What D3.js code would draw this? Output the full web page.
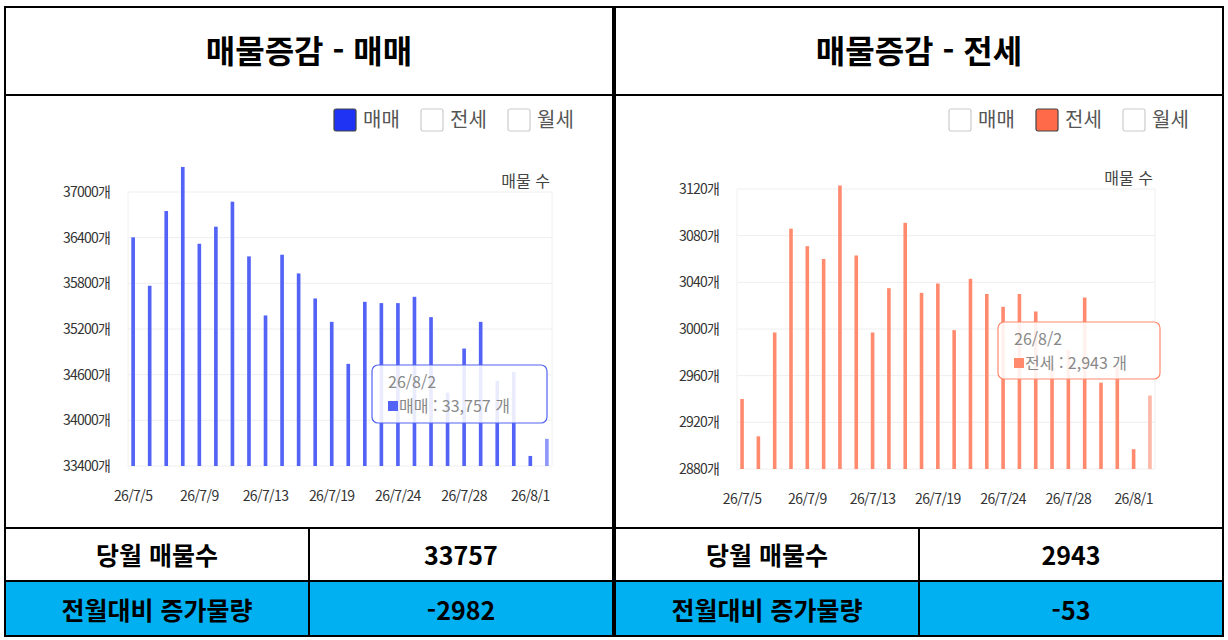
<!DOCTYPE html>
<html lang="ko">
<head>
<meta charset="UTF-8">
<script src="https://d3js.org/d3.v7.min.js"></script>
<style>
  body { margin: 0; background: #fff; font-family: "Noto Sans CJK KR", "Noto Sans", sans-serif; }
</style>
</head>
<body>
<svg id="chart" width="1228" height="640"></svg>
<script>
const dates = ["26/7/5","26/7/6","26/7/7","26/7/8","26/7/9","26/7/10","26/7/11","26/7/12","26/7/13","26/7/14",
  "26/7/15","26/7/16","26/7/19","26/7/20","26/7/21","26/7/22","26/7/24","26/7/25","26/7/26","26/7/27",
  "26/7/28","26/7/29","26/7/30","26/7/31","26/8/1","26/8/2"];
const saleValues = [36404,35768,36750,37329,36320,36544,36873,36154,35378,36176,35930,35601,35294,34742,
  35557,35540,35540,35623,35356,34365,34943,35294,34518,34637,33532,33757];
const jeonseValues = [2940,2908,2997,3086,3071,3060,3123,3063,2997,3035,3091,3031,3039,2999,3043,3030,
  3019,3030,3015,2970,2982,3027,2954,2968,2897,2943];
const saleTicks = [33400,34000,34600,35200,35800,36400,37000];
const jeonseTicks = [2880,2920,2960,3000,3040,3080,3120];
const legendNames = ["매매","전세","월세"];

const svg = d3.select("#chart");
const font = '"Noto Sans CJK KR", sans-serif';

const panels = [
  { x0: 5, title: "매물증감 - 매매", values: saleValues, ticks: saleTicks, domain: [33400, 37000],
    color: "#5263f5", light: "#8d98f8", legendColor: "#1f33f5", sel: 0,
    plot: { l: 128, r: 552, t: 192, b: 466 }, legendX: 333,
    tip: { x: 372, y: 365, w: 175, h: 58 }, tipText: "매매 : 33,757 개",
    current: "33757", diff: "-2982" },
  { x0: 615, title: "매물증감 - 전세", values: jeonseValues, ticks: jeonseTicks, domain: [2880, 3120],
    color: "#ff8a6e", light: "#ffb7a6", legendColor: "#ff6a48", sel: 1,
    plot: { l: 737, r: 1155, t: 189, b: 469 }, legendX: 948,
    tip: { x: 998, y: 322, w: 162, h: 57 }, tipText: "전세 : 2,943 개",
    current: "2943", diff: "-53" }
];

panels.forEach(p => {
  const W = 608;
  // frame
  svg.append("rect").attr("x", p.x0).attr("y", 7).attr("width", W).attr("height", 629)
    .attr("fill", "none").attr("stroke", "#000").attr("stroke-width", 2);
  svg.append("line").attr("x1", p.x0).attr("x2", p.x0 + W).attr("y1", 95).attr("y2", 95)
    .attr("stroke", "#000").attr("stroke-width", 2);
  svg.append("text").attr("x", p.x0 + W / 2).attr("y", 63).attr("text-anchor", "middle")
    .attr("font-family", font).attr("font-size", 32).attr("font-weight", "bold").text(p.title);

  // table rows
  svg.append("rect").attr("x", p.x0).attr("y", 581).attr("width", W).attr("height", 55).attr("fill", "#00b0f0");
  [528, 581].forEach(y => svg.append("line").attr("x1", p.x0).attr("x2", p.x0 + W).attr("y1", y).attr("y2", y)
    .attr("stroke", "#000").attr("stroke-width", 2));
  svg.append("rect").attr("x", p.x0).attr("y", 528).attr("width", W).attr("height", 108)
    .attr("fill", "none").attr("stroke", "#000").attr("stroke-width", 2);
  svg.append("line").attr("x1", p.x0 + 304).attr("x2", p.x0 + 304).attr("y1", 528).attr("y2", 636)
    .attr("stroke", "#000").attr("stroke-width", 2);
  const rows = [["당월 매물수", p.current, 565], ["전월대비 증가물량", p.diff, 620]];
  rows.forEach(r => {
    svg.append("text").attr("x", p.x0 + 152).attr("y", r[2]).attr("text-anchor", "middle")
      .attr("font-family", font).attr("font-size", 25).attr("font-weight", "bold").text(r[0]);
    svg.append("text").attr("x", p.x0 + 456).attr("y", r[2]).attr("text-anchor", "middle")
      .attr("font-family", font).attr("font-size", 25).attr("font-weight", "bold").text(r[1]);
  });

  // legend
  const lg = svg.append("g").attr("transform", `translate(${p.legendX},108)`);
  legendNames.forEach((n, i) => {
    const g = lg.append("g").attr("transform", `translate(${i * 87},0)`);
    g.append("rect").attr("x", 1).attr("y", 1).attr("width", 22).attr("height", 22).attr("rx", 2)
      .attr("fill", i === p.sel ? p.legendColor : "#fff")
      .attr("stroke", i === p.sel ? "#444" : "#ccc").attr("stroke-width", 1.2);
    g.append("text").attr("x", 30).attr("y", 19).attr("font-family", font).attr("font-size", 20)
      .attr("fill", "#555").text(n);
  });

  // scales
  const x = d3.scaleBand().domain(dates).range([p.plot.l, p.plot.r]).paddingInner(0.78).paddingOuter(0.2);
  const y = d3.scaleLinear().domain(p.domain).range([p.plot.b, p.plot.t]);

  svg.append("g").selectAll("line").data(p.ticks).join("line")
    .attr("x1", p.plot.l).attr("x2", p.plot.r).attr("y1", d => y(d)).attr("y2", d => y(d))
    .attr("stroke", "#eee");
  svg.append("line").attr("x1", p.plot.l).attr("x2", p.plot.l).attr("y1", p.plot.t).attr("y2", p.plot.b).attr("stroke", "#f0f0f0");
  svg.append("line").attr("x1", p.plot.r).attr("x2", p.plot.r).attr("y1", p.plot.t).attr("y2", p.plot.b).attr("stroke", "#f0f0f0");

  svg.append("g").selectAll("text").data(p.ticks).join("text")
    .attr("x", p.plot.l - 18).attr("y", d => y(d) + 5).attr("text-anchor", "end")
    .attr("font-family", font).attr("font-size", 14).attr("letter-spacing", -0.8).attr("fill", "#333")
    .text(d => d + "개");

  svg.append("g").selectAll("rect").data(p.values).join("rect")
    .attr("x", (d, i) => x(dates[i])).attr("width", x.bandwidth())
    .attr("y", d => y(d)).attr("height", d => p.plot.b - y(d))
    .attr("fill", (d, i) => i === dates.length - 1 ? p.light : p.color);

  svg.append("g").selectAll("text").data(dates.filter((d, i) => i % 4 === 0 && i < 25)).join("text")
    .attr("x", d => x(d) + x.bandwidth() / 2).attr("y", p.plot.b + 35).attr("text-anchor", "middle")
    .attr("font-family", font).attr("font-size", 14).attr("letter-spacing", -0.6).attr("fill", "#333").text(d => d);

  svg.append("text").attr("x", p.plot.r - 2).attr("y", p.plot.t - 5).attr("text-anchor", "end")
    .attr("font-family", font).attr("font-size", 16).attr("fill", "#444").text("매물 수");

  // tooltip
  const t = p.tip;
  svg.append("rect").attr("x", t.x).attr("y", t.y).attr("width", t.w).attr("height", t.h).attr("rx", 6)
    .attr("fill", "rgba(255,255,255,0.88)").attr("stroke", p.color).attr("stroke-width", 1.2);
  svg.append("text").attr("x", t.x + 16).attr("y", t.y + 23).attr("font-family", font).attr("font-size", 16)
    .attr("fill", "#888").text("26/8/2");
  svg.append("rect").attr("x", t.x + 16).attr("y", t.y + 36).attr("width", 10).attr("height", 10).attr("fill", p.color);
  svg.append("text").attr("x", t.x + 27).attr("y", t.y + 47).attr("font-family", font).attr("font-size", 16)
    .attr("fill", "#888").text(p.tipText);
});
</script>
</body>
</html>
